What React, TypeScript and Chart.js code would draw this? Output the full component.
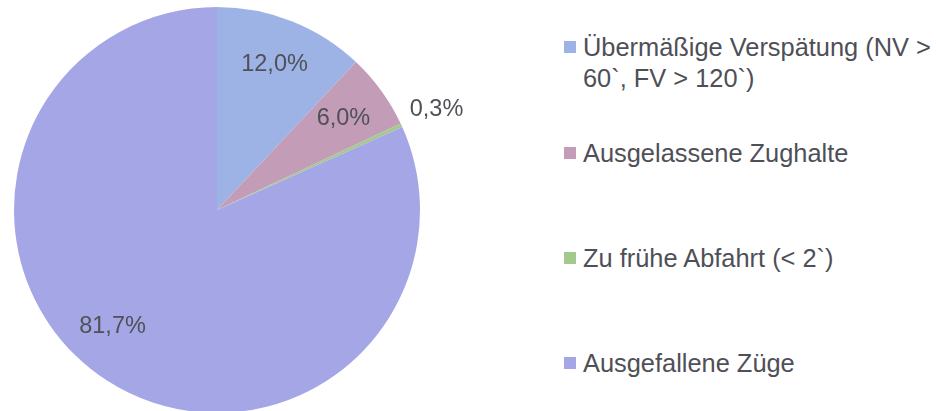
import React, { useEffect, useRef } from "react";
import { Chart, registerables } from "chart.js";

Chart.register(...registerables);

const categories = [
  "Übermäßige Verspätung (NV > 60`, FV > 120`)",
  "Ausgelassene Zughalte",
  "Zu frühe Abfahrt (< 2`)",
  "Ausgefallene Züge",
];
const legendLines = [
  ["Übermäßige Verspätung (NV >", "60`, FV > 120`)"],
  ["Ausgelassene Zughalte"],
  ["Zu frühe Abfahrt (< 2`)"],
  ["Ausgefallene Züge"],
];
const values = [12.0, 6.0, 0.3, 81.7];
const valueLabels = ["12,0%", "6,0%", "0,3%", "81,7%"];
const colors = ["#9db3e6", "#c39cb8", "#a3c98e", "#a5a6e6"];
const labelOutside = [false, false, true, false];
const labelAngleShift = [0, 0, 0, 9];

const FONT = "'Liberation Sans', Arial, sans-serif";

const labelPlugin = {
  id: "sliceLabels",
  afterDatasetsDraw(chart: any) {
    const ctx = chart.ctx;
    const meta = chart.getDatasetMeta(0);
    ctx.save();
    ctx.font = `23.5px ${FONT}`;
    ctx.fillStyle = "#505057";
    ctx.textAlign = "center";
    ctx.textBaseline = "middle";
    meta.data.forEach((arc: any, i: number) => {
      const mid = (arc.startAngle + arc.endAngle) / 2 + (labelAngleShift[i] * Math.PI) / 180;
      const r = labelOutside[i] ? arc.outerRadius * 1.19 : arc.outerRadius * 0.77;
      const x = arc.x + Math.cos(mid) * r;
      const y = arc.y + Math.sin(mid) * r;
      ctx.fillText(valueLabels[i], x, y);
    });
    ctx.restore();
  },
};

export default function App() {
  const ref = useRef<HTMLCanvasElement>(null);
  useEffect(() => {
    if (!ref.current) return;
    const chart = new Chart(ref.current, {
      type: "pie",
      data: {
        labels: categories,
        datasets: [
          {
            data: values,
            backgroundColor: colors,
            borderWidth: 0,
          },
        ],
      },
      options: {
        animation: false,
        responsive: false,
        maintainAspectRatio: false,
        layout: { padding: { left: 14, top: 7, right: 80, bottom: 7 } },
        plugins: {
          legend: { display: false },
          tooltip: { enabled: false },
        },
      },
      plugins: [labelPlugin],
    });
    return () => chart.destroy();
  }, []);

  const itemTops = [47, 153, 258, 363];
  const lineH = 31;

  return (
    <div
      style={{
        position: "absolute",
        left: 0,
        top: 0,
        width: 936,
        height: 411,
        overflow: "hidden",
        background: "#ffffff",
        fontFamily: FONT,
      }}
    >
      <canvas ref={ref} width={500} height={420} style={{ position: "absolute", left: 0, top: 0 }} />
      {legendLines.map((lines, i) => (
        <div key={i}>
          <div
            style={{
              position: "absolute",
              left: 564,
              top: itemTops[i] - 6,
              width: 12,
              height: 12,
              background: colors[i],
            }}
          />
          <div
            style={{
              position: "absolute",
              left: 583,
              top: itemTops[i] - lineH / 2,
              fontSize: 25.4,
              lineHeight: `${lineH}px`,
              color: "#4f4f57",
              whiteSpace: "nowrap",
            }}
          >
            {lines.map((l, j) => (
              <div key={j}>{l}</div>
            ))}
          </div>
        </div>
      ))}
    </div>
  );
}
